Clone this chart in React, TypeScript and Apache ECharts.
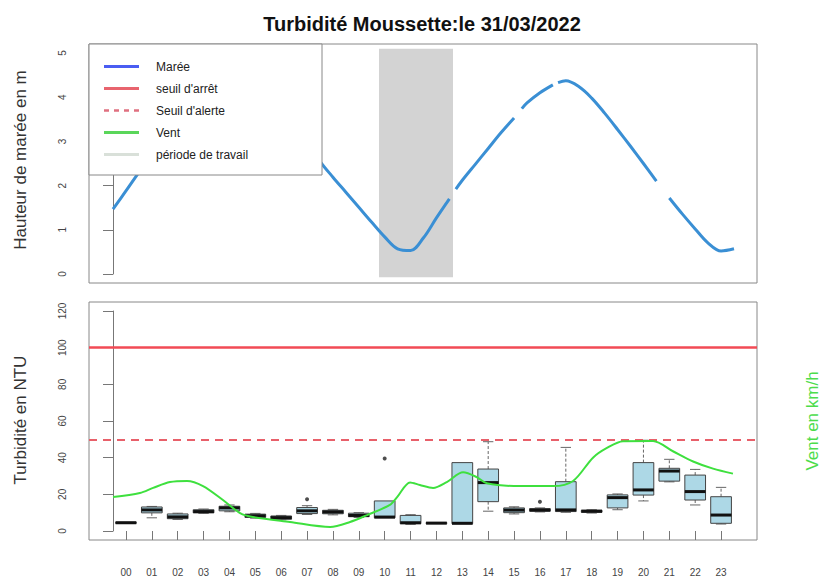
import React, { useEffect, useRef } from "react";
import * as echarts from "echarts";

const chartTitle = "Turbidité Moussette:le 31/03/2022";
const hours = ["00","01","02","03","04","05","06","07","08","09","10","11","12","13","14","15","16","17","18","19","20","21","22","23"];

// tide (hours since 00:00, metres) ; null = missing
const tideTimes = [0,0.5,1,1.5,2,2.5,3,3.5,4,4.5,5,5.5,6,6.5,7,7.5,8,8.5,9,9.5,10,10.5,11,11.5,12,12.5,13,13.12,13.25,13.5,14,14.5,15,15.5,15.65,15.8,16,16.5,17,17.1,17.2,17.5,18,18.5,19,19.5,20,20.5,21,21.3,21.5,22,22.5,23,23.5,24];
const tideHeights = [1.47,1.88,2.3,2.7,3.08,3.42,3.72,3.97,4.15,4.27,4.3,4.24,4.07,3.8,3.43,3.0,2.55,2.19,1.85,1.51,1.17,0.84,0.57,0.53,0.82,1.27,1.7,null,1.92,2.12,2.48,2.84,3.2,3.53,null,3.74,3.87,4.1,4.28,null,4.33,4.37,4.24,3.98,3.64,3.27,2.89,2.5,2.1,null,1.72,1.36,1.02,0.7,0.52,0.57];

// wind
const windTimes = [0,1.04,1.55,2.2,2.86,3.48,4.25,4.91,5.41,6.84,8.39,9.16,9.82,10.7,10.98,11.48,11.86,12.37,12.9,13.53,14.07,14.45,15.73,17.0,17.78,18.55,19.09,19.71,20.87,21.64,22.42,23.19,23.96];
const windSpeeds = [18.5,20.7,23.5,26.7,27.3,24.5,16.9,9.8,7.6,4.9,2.2,4.9,8.7,14.2,18.5,26.5,25.1,23.5,26.7,32,29.3,26,24.5,24.5,27.3,40,45.3,49,49.1,43.5,37.9,34,31.3];

// turbidity boxplots per hour
const boxMin =    [4.1,7.2,6.3,9.6,10.5,7.0,6.1,9.0,8.8,7.4,7.0,3.6,3.9,3.8,10.8,9.3,10.4,10.2,9.8,11.6,16.4,26.8,14.2,3.8];
const boxQ1 =     [4.2,9.9,6.7,9.9,11.0,7.4,6.4,9.5,9.4,7.8,7.2,4.0,4.0,4.0,16.0,10.0,10.8,10.6,10.2,12.6,19.6,27.2,16.9,4.2];
const boxMedian = [4.5,11.5,7.7,10.6,12.6,8.3,7.3,11.0,10.4,8.5,7.6,4.5,4.3,4.2,26.4,11.4,11.4,11.5,10.8,18.2,22.4,32.7,21.5,8.7];
const boxQ3 =     [4.8,13.1,9.3,11.6,13.5,9.2,8.2,12.8,11.3,9.7,16.4,8.5,4.6,37.3,33.8,12.6,12.2,26.9,11.3,19.7,37.3,34.2,30.5,18.7];
const boxMax =    [4.9,13.4,9.7,12.0,14.2,9.6,8.5,13.8,11.8,10.0,16.4,8.9,4.8,37.3,48.7,13.2,12.6,45.6,11.6,20.2,49.5,39.1,33.6,23.8];
const outlierHours = [7, 10, 16];
const outlierValues = [17.3, 39.5, 16.0];

const seuilArret = 100;
const seuilAlerte = 50;
const workPeriod = [10.28, 13.14];
const workHeight = [-0.07, 5.09];

const FONT = "'Liberation Sans', Arial, Helvetica, sans-serif";

export default function App() {
  const ref = useRef<HTMLDivElement>(null);
  useEffect(() => {
    if (!ref.current) return;
    const chart = echarts.init(ref.current, null, { renderer: "svg" });

    const tideData = tideTimes.map((t, i) => [t, tideHeights[i] === null ? "-" : tideHeights[i]]);
    const windData = windTimes.map((t, i) => [t, windSpeeds[i]]);
    const boxData = hours.map((_, i) => [i, boxMin[i], boxQ1[i], boxMedian[i], boxQ3[i], boxMax[i]]);
    const outData = outlierHours.map((h, i) => [h, outlierValues[i]]);

    const axisGray = "#777";
    const yAxisCommon = {
      type: "value",
      offset: 24,
      axisLine: { show: true, lineStyle: { color: axisGray, width: 1 } },
      axisTick: { show: true, length: 10, lineStyle: { color: axisGray } },
      axisLabel: { rotate: 90, fontSize: 10, color: "#444", margin: 22, fontFamily: FONT },
      splitLine: { show: false },
    };

    const legendItems = [
      { label: "Marée", color: "#4a5df2", dash: null as any, width: 3 },
      { label: "seuil d'arrêt", color: "#e8646e", dash: null, width: 3 },
      { label: "Seuil d'alerte", color: "#e07080", dash: [5, 5], width: 2.5 },
      { label: "Vent", color: "#5ad65a", dash: null, width: 3 },
      { label: "période de travail", color: "#d9e0d9", dash: null, width: 3 },
    ];
    const legendChildren: any[] = [
      { type: "rect", z: 100, shape: { x: 89, y: 44, width: 233, height: 131 }, style: { fill: "#fff", stroke: "#888", lineWidth: 1 } },
    ];
    legendItems.forEach((it, i) => {
      const y = 66.5 + i * 22;
      legendChildren.push({
        type: "line", z: 101,
        shape: { x1: 104, y1: y, x2: 139, y2: y },
        style: { stroke: it.color, lineWidth: it.width, lineDash: it.dash || undefined },
      });
      legendChildren.push({
        type: "text", z: 101,
        x: 156, y: y,
        style: { text: it.label, fontSize: 12, fontFamily: FONT, fill: "#222", textVerticalAlign: "middle" },
      });
    });

    const option: any = {
      animation: false,
      backgroundColor: "#fff",
      grid: [
        { left: 89, top: 44, width: 668, height: 239, show: true, borderColor: "#888", borderWidth: 1, backgroundColor: "transparent" },
        { left: 113, top: 53, width: 621, height: 221 },
        { left: 89, top: 302, width: 668, height: 238, show: true, borderColor: "#888", borderWidth: 1, backgroundColor: "transparent" },
        { left: 113, top: 311, width: 621, height: 220 },
      ],
      xAxis: [
        { gridIndex: 0, type: "value", min: -0.9275, max: 24.889, show: false },
        { gridIndex: 1, type: "value", min: 0, max: 24, show: false },
        { gridIndex: 2, type: "value", min: 0, max: 1, show: false },
        {
          gridIndex: 3, type: "category", data: hours, boundaryGap: true, position: "bottom", offset: 10,
          axisLine: { show: false },
          axisTick: { show: true, alignWithLabel: true, length: 9, lineStyle: { color: axisGray } },
          axisLabel: { interval: 0, fontSize: 10, color: "#444", margin: 26, fontFamily: FONT },
          splitLine: { show: false },
        },
        { gridIndex: 3, type: "value", min: 0, max: 24, show: false },
      ],
      yAxis: [
        { gridIndex: 0, type: "value", min: -0.2, max: 5.2, show: false },
        { gridIndex: 1, min: 0, max: 5, interval: 1, ...yAxisCommon },
        { gridIndex: 2, type: "value", min: -4.8, max: 124.8, show: false },
        { gridIndex: 3, min: 0, max: 120, interval: 20, ...yAxisCommon },
      ],
      series: [
        {
          type: "line", xAxisIndex: 0, yAxisIndex: 0, data: [[0, -0.2]], symbol: "none",
          lineStyle: { opacity: 0 }, clip: false, silent: true,
          markArea: {
            silent: true,
            itemStyle: { color: "#d3d3d3" },
            data: [[{ xAxis: workPeriod[0], yAxis: workHeight[0] }, { xAxis: workPeriod[1], yAxis: workHeight[1] }]],
          },
        },
        {
          type: "line", xAxisIndex: 1, yAxisIndex: 1, data: tideData, showSymbol: false, smooth: 0.35,
          connectNulls: false, lineStyle: { color: "#3a8fd4", width: 3 }, z: 3,
        },
        {
          type: "line", xAxisIndex: 2, yAxisIndex: 2, data: [[0.5, -4.8]], symbol: "none",
          lineStyle: { opacity: 0 }, silent: true, clip: false,
          markLine: {
            silent: true, symbol: "none", label: { show: false },
            data: [
              { yAxis: seuilArret, lineStyle: { color: "#f24a55", width: 2.5, type: "solid" } },
              { yAxis: seuilAlerte, lineStyle: { color: "#e8606a", width: 2, type: [8, 6] } },
            ],
          },
        },
        {
          type: "custom", xAxisIndex: 3, yAxisIndex: 3, data: boxData, z: 3,
          encode: { x: 0, y: [1, 2, 3, 4, 5] },
          renderItem: (params: any, api: any) => {
            const idx = api.value(0);
            const lo = api.coord([idx, api.value(1)]);
            const q1 = api.coord([idx, api.value(2)]);
            const md = api.coord([idx, api.value(3)]);
            const q3 = api.coord([idx, api.value(4)]);
            const hi = api.coord([idx, api.value(5)]);
            const band = api.size([1, 0])[0];
            const w = band * 0.8;
            const cx = md[0];
            const x0 = cx - w / 2;
            const st = w / 4;
            const children: any[] = [];
            const wStyle = { stroke: "#666", lineWidth: 1, lineDash: [3, 2] };
            const sStyle = { stroke: "#666", lineWidth: 1 };
            if (hi[1] < q3[1] - 0.5) {
              children.push({ type: "line", shape: { x1: cx, y1: q3[1], x2: cx, y2: hi[1] }, style: wStyle });
              children.push({ type: "line", shape: { x1: cx - st, y1: hi[1], x2: cx + st, y2: hi[1] }, style: sStyle });
            }
            if (lo[1] > q1[1] + 0.5) {
              children.push({ type: "line", shape: { x1: cx, y1: q1[1], x2: cx, y2: lo[1] }, style: wStyle });
              children.push({ type: "line", shape: { x1: cx - st, y1: lo[1], x2: cx + st, y2: lo[1] }, style: sStyle });
            }
            children.push({
              type: "rect",
              shape: { x: x0, y: q3[1], width: w, height: Math.max(1, q1[1] - q3[1]) },
              style: { fill: "#add8e6", stroke: "#444", lineWidth: 1 },
            });
            children.push({ type: "line", shape: { x1: x0, y1: md[1], x2: x0 + w, y2: md[1] }, style: { stroke: "#111", lineWidth: 3 } });
            return { type: "group", children };
          },
        },
        {
          type: "scatter", xAxisIndex: 3, yAxisIndex: 3, data: outData, symbol: "circle", symbolSize: 4,
          itemStyle: { color: "#222" }, z: 4,
        },
        {
          type: "line", xAxisIndex: 4, yAxisIndex: 3, data: windData, showSymbol: false, smooth: 0.3,
          lineStyle: { color: "#3ee03e", width: 2 }, z: 5,
        },
      ],
      graphic: [
        {
          type: "text", x: 422, y: 24, z: 100,
          style: { text: chartTitle, fontSize: 20, fontWeight: "bold", fontFamily: FONT, fill: "#111", textAlign: "center", textVerticalAlign: "middle" },
        },
        {
          type: "text", x: 20, y: 160, rotation: Math.PI / 2, z: 100,
          style: { text: "Hauteur de marée en m", fontSize: 17, fontFamily: FONT, fill: "#333", textAlign: "center", textVerticalAlign: "middle" },
        },
        {
          type: "text", x: 20, y: 420, rotation: Math.PI / 2, z: 100,
          style: { text: "Turbidité en NTU", fontSize: 17, fontFamily: FONT, fill: "#333", textAlign: "center", textVerticalAlign: "middle" },
        },
        {
          type: "text", x: 812, y: 421, rotation: Math.PI / 2, z: 100,
          style: { text: "Vent en km/h", fontSize: 17, fontFamily: FONT, fill: "#4cdc4c", textAlign: "center", textVerticalAlign: "middle" },
        },
        { type: "group", children: legendChildren },
      ],
    };
    chart.setOption(option);
    return () => chart.dispose();
  }, []);
  return <div ref={ref} style={{ position: "fixed", left: 0, top: 0, width: 823, height: 579, background: "#fff" }} />;
}
